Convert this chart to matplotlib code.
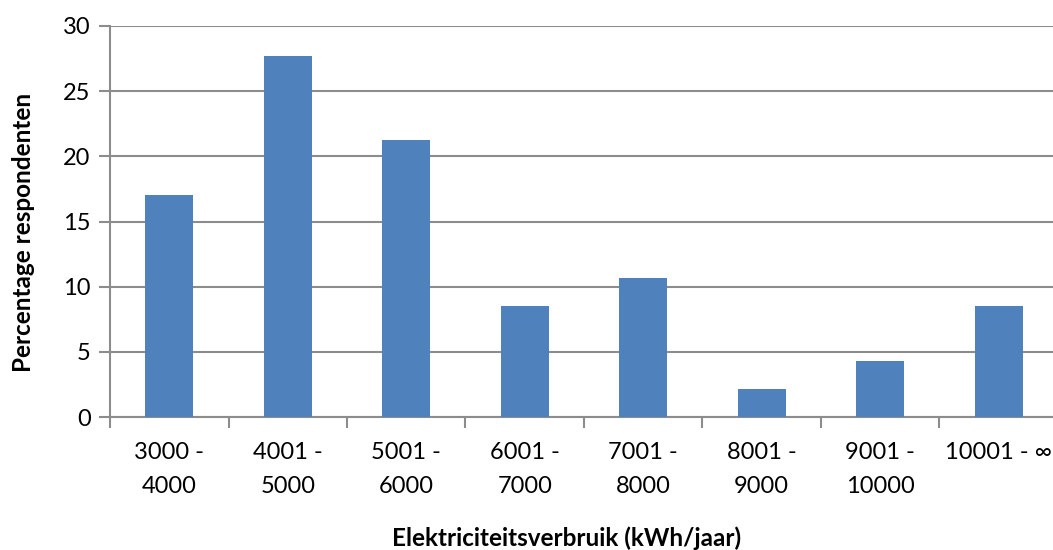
import numpy as np
import matplotlib.pyplot as plt

plt.rcParams['font.family'] = ['Lato', 'DejaVu Sans']

categories = ["3000 -\n4000", "4001 -\n5000", "5001 -\n6000", "6001 -\n7000",
              "7001 -\n8000", "8001 -\n9000", "9001 -\n10000", "10001 - \u221e"]
percentages = [17.02, 27.66, 21.28, 8.51, 10.64, 2.13, 4.26, 8.51]
y_ticks = [0, 5, 10, 15, 20, 25, 30]

bar_color = "#4f81bd"
grid_color = "#8c8c8c"

fig = plt.figure(figsize=(10.53, 5.5), dpi=100)
# plot area runs slightly past the right edge of the figure
ax = fig.add_axes([110 / 1053, 1 - 417 / 550, 948 / 1053, 391 / 550])

x = np.arange(len(categories))
ax.bar(x, percentages, width=0.405, color=bar_color, zorder=3)

ax.set_xlim(-0.5, len(categories) - 0.5)
ax.set_ylim(0, 30)
ax.set_yticks(y_ticks)
ax.yaxis.grid(True, color=grid_color, linewidth=1.5, zorder=0)

ax.set_xticks(x)
ax.set_xticklabels(categories, fontsize=17, linespacing=1.75)
ax.set_xticks(np.arange(len(categories) + 1) - 0.5, minor=True)
ax.tick_params(axis='x', which='major', length=0, pad=18)
ax.tick_params(axis='x', which='minor', length=8, width=1.5, color=grid_color, direction='out')
ax.tick_params(axis='y', labelsize=17, length=8, width=1.5, color=grid_color, pad=6)

for side in ['top', 'right']:
    ax.spines[side].set_visible(False)
for side in ['left', 'bottom']:
    ax.spines[side].set_color(grid_color)
    ax.spines[side].set_linewidth(1.5)

ax.set_ylabel("Percentage respondenten", fontsize=17.5, fontweight='bold', va='center')
ax.yaxis.set_label_coords(-0.091, 0.473)
ax.set_xlabel("Elektriciteitsverbruik (kWh/jaar)", fontsize=17.5, fontweight='bold', va='center')
ax.xaxis.set_label_coords(0.482, -0.309)

fig.savefig("out.png", dpi=100)
